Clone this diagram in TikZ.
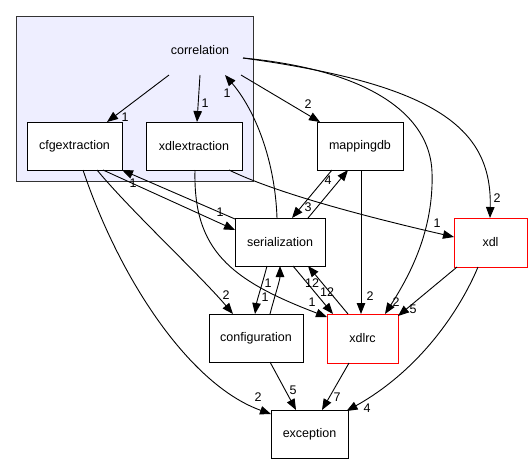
\documentclass[tikz,border=0pt]{standalone}
\usepackage{fontspec}
\setmainfont{Liberation Sans}
\usetikzlibrary{arrows.meta,calc}
\definecolor{clusterfill}{HTML}{EEEEFF}
\definecolor{clusterdraw}{HTML}{333333}
\begin{document}
\begin{tikzpicture}[x=1pt,y=-1pt,
  every node/.style={font=\fontsize{12.5}{14}\selectfont},
  box/.style={draw=black, line width=1pt, fill=white, inner sep=0pt},
  redbox/.style={box, draw=red},
  lbl/.style={inner sep=0pt},
  edge/.style={line width=0.9pt, -{Triangle[length=11pt,width=8.5pt]}},
]
\useasboundingbox (0,0) rectangle (532,464);
\node[draw=clusterdraw, fill=clusterfill, line width=1pt, minimum width=237pt, minimum height=165pt, inner sep=0pt] (cluster) at (134.5,98.5) {};
\node[inner sep=0pt] (corr) at (200,50) {correlation};
\node[box, minimum width=95pt, minimum height=48pt] (cfg) at (74.5,146) {cfgextraction};
\node[box, minimum width=96pt, minimum height=48pt] (xdlx) at (194,146) {xdlextraction};
\node[box, minimum width=86pt, minimum height=48pt] (mdb) at (360,146) {mappingdb};
\node[box, minimum width=90pt, minimum height=48pt] (ser) at (280,242) {serialization};
\node[redbox, minimum width=73pt, minimum height=49pt] (xdl) at (490.5,242.5) {xdl};
\node[box, minimum width=94pt, minimum height=48pt] (conf) at (256,338) {configuration};
\node[redbox, minimum width=71pt, minimum height=49pt] (xdlrc) at (362.5,338.5) {xdlrc};
\node[box, minimum width=77pt, minimum height=48pt] (exc) at (309.5,434) {exception};

% edges
\draw[edge] ($(corr)+(-31,25)$) -- ($(cfg)+(32.5,-24)$);
\draw[edge] ($(corr)+(0,25)$) -- ($(xdlx)+(3,-24)$);
\draw[edge] ($(ser)+(-3,-24)$) .. controls (275,160) and (255,110) .. ($(corr)+(25,25)$);
\draw[edge] ($(corr)+(41,25)$) -- ($(mdb)+(-40,-24)$);
\draw[edge] ($(corr)+(43,8)$) .. controls (370,70) and (430,115) .. (432,172) .. controls (434,230) and (410,275) .. ($(xdlrc)+(22.5,-24.5)$);
\draw[edge] ($(corr)+(43,8)$) .. controls (440,85) and (492,130) .. ($(xdl)+(-0.5,-24.5)$);
\draw[edge] ($(cfg)+(28.5,24)$) -- ($(ser)+(-45,-12)$);
\draw[edge] ($(ser)+(-45,-23)$) -- ($(cfg)+(47.5,24)$);
\draw[edge] ($(cfg)+(22.5,24)$) .. controls (130,210) and (200,275) .. ($(conf)+(-23,-24)$);
\draw[edge] ($(cfg)+(8.5,24)$) .. controls (120,280) and (190,385) .. ($(exc)+(-38.5,-20)$);
\draw[edge] ($(xdlx)+(35,24)$) .. controls (280,195) and (380,220) .. ($(xdl)+(-36.5,-5.5)$);
\draw[edge] ($(xdlx)+(1,24)$) .. controls (193,250) and (230,280) .. ($(xdlrc)+(-35.5,-21.5)$);
\draw[edge] ($(mdb)+(-28,24)$) -- ($(ser)+(12,-24)$);
\draw[edge] ($(ser)+(28,-24)$) -- ($(mdb)+(-12,24)$);
\draw[edge] ($(mdb)+(1,24)$) -- ($(xdlrc)+(-1.5,-24.5)$);
\draw[edge] ($(ser)+(13,24)$) -- ($(xdlrc)+(-29.5,-24.5)$);
\draw[edge] ($(xdlrc)+(-14.5,-24.5)$) -- ($(ser)+(28,24)$);
\draw[edge] ($(ser)+(-13,24)$) .. controls (262,285) and (257,300) .. ($(conf)+(-1,-24)$);
\draw[edge] ($(conf)+(14,-24)$) .. controls (275,295) and (280,280) .. ($(ser)+(0,24)$);
\draw[edge] ($(conf)+(14,24)$) -- ($(exc)+(-13.5,-24)$);
\draw[edge] ($(xdlrc)+(-13.5,24.5)$) -- ($(exc)+(12.5,-24)$);
\draw[edge] ($(xdl)+(-12.5,24.5)$) .. controls (460,310) and (420,370) .. ($(exc)+(37,-23)$);
\draw[edge] ($(xdl)+(-33.5,24.5)$) -- ($(xdlrc)+(35.5,-22.5)$);

% labels
\node[lbl] (l1) at (125,117) {1};
\node[lbl] (l2) at (205,103) {1};
\node[lbl] (l3) at (227,93) {1};
\node[lbl] (l4) at (308,104) {2};
\node[lbl] (l5) at (396,302) {2};
\node[lbl] (l6) at (497,198) {2};
\node[lbl] (l7) at (220,212) {1};
\node[lbl] (l8) at (133,183) {1};
\node[lbl] (l9) at (226,295) {2};
\node[lbl] (l10) at (258,397) {2};
\node[lbl] (l11) at (437,223) {1};
\node[lbl] (l12) at (312,302) {1};
\node[lbl] (l13) at (308,207) {3};
\node[lbl] (l14) at (328,180) {4};
\node[lbl] (l15) at (370,296) {2};
\node[lbl] (l16) at (327,292) {12};
\node[lbl] (l17) at (312,283) {12};
\node[lbl] (l18) at (268,283) {1};
\node[lbl] (l19) at (265,297) {1};
\node[lbl] (l20) at (293,390) {5};
\node[lbl] (l21) at (337,397) {7};
\node[lbl] (l22) at (367,408) {4};
\node[lbl] (l23) at (413,309) {5};
\end{tikzpicture}
\end{document}
